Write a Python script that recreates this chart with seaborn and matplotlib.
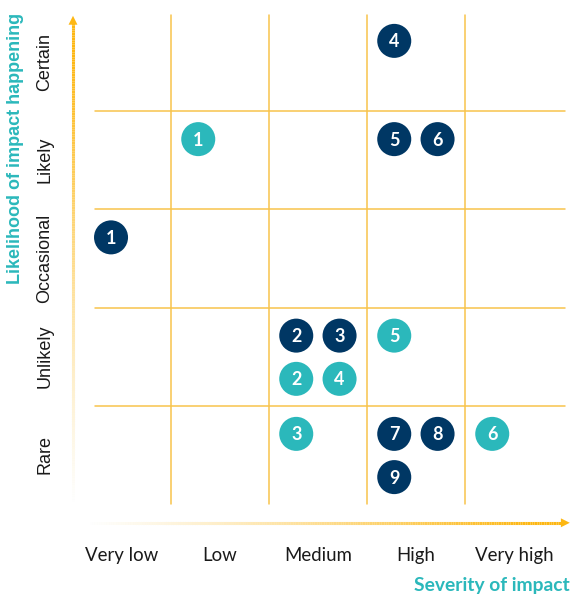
import numpy as np
import pandas as pd
import matplotlib
matplotlib.use("Agg")
import matplotlib.pyplot as plt
import seaborn as sns
from matplotlib.collections import LineCollection

# Risk matrix data
severity = ["Very low", "Low", "Medium", "High", "Very high"]
likelihood = ["Rare", "Unlikely", "Occasional", "Likely", "Certain"]

# navy risks
navy_ids = [1, 2, 3, 4, 5, 6, 7, 8, 9]
navy_sev = ["Very low", "Medium", "Medium", "High", "High", "High", "High", "High", "High"]
navy_lik = ["Occasional", "Unlikely", "Unlikely", "Certain", "Likely", "Likely", "Rare", "Rare", "Rare"]
navy_col = [0, 0, 1, 0, 0, 1, 0, 1, 0]
navy_row = [0, 0, 0, 0, 0, 0, 0, 0, 1]

# teal risks
teal_ids = [1, 2, 3, 4, 5, 6]
teal_sev = ["Low", "Medium", "Medium", "Medium", "High", "Very high"]
teal_lik = ["Likely", "Unlikely", "Rare", "Unlikely", "Unlikely", "Rare"]
teal_col = [0, 0, 0, 1, 0, 0]
teal_row = [0, 1, 0, 1, 0, 0]

NAVY = "#003764"
TEAL = "#2BB8BB"
GRID = "#F8C34B"
ARROW = "#FDB713"

grid_left = -0.28
grid_right = 4.52
grid_bottom = -0.5
grid_top = 4.48
slot_dx = [-0.222, 0.22]
slot_dy = [0.215, -0.225]


def build(ids, sev, lik, col, row, group):
    df = pd.DataFrame({"id": ids, "sev": sev, "lik": lik, "col": col, "row": row})
    xi = df["sev"].map(severity.index)
    left = np.maximum(xi - 0.5, grid_left)
    df["x"] = (left + xi + 0.5) / 2 + df["col"].map(lambda c: slot_dx[c])
    df["y"] = df["lik"].map(likelihood.index) + df["row"].map(lambda r: slot_dy[r])
    df["group"] = group
    return df


df = pd.concat([
    build(navy_ids, navy_sev, navy_lik, navy_col, navy_row, "navy"),
    build(teal_ids, teal_sev, teal_lik, teal_col, teal_row, "teal"),
], ignore_index=True)

sns.set_style("white")
plt.rcParams["font.family"] = ["Liberation Sans", "DejaVu Sans"]

fig = plt.figure(figsize=(5.73, 5.97), dpi=100)
ax = fig.add_axes([0, 0, 1, 1])
ax.set_xlim((0 - 122) / 98, (573 - 122) / 98)
ax.set_ylim((455 - 597) / 98.25, (455 - 0) / 98.25)
ax.axis("off")

# grid lines
for b in np.arange(0.5, 4, 1):
    ax.plot([b, b], [grid_bottom, grid_top], color=GRID, lw=1.1, zorder=1)
    ax.plot([grid_left, grid_right], [b, b], color=GRID, lw=1.1, zorder=1)


def gradient_line(x0, y0, x1, y1):
    n = 200
    t = np.linspace(0, 1, n + 1)
    xs = x0 + (x1 - x0) * t
    ys = y0 + (y1 - y0) * t
    segs = [[(xs[i], ys[i]), (xs[i + 1], ys[i + 1])] for i in range(n)]
    rgb = matplotlib.colors.to_rgb(ARROW)
    cols = [(rgb[0], rgb[1], rgb[2], min(1, (i / n) ** 1.2 * 1.1)) for i in range(n)]
    ax.add_collection(LineCollection(segs, colors=cols, linewidths=2.2, zorder=2))
    ax.annotate("", xy=(x1 + (x1 - x0) * 0.02, y1 + (y1 - y0) * 0.02), xytext=(x1 - (x1 - x0) * 0.01, y1 - (y1 - y0) * 0.01),
                arrowprops=dict(arrowstyle="-|>", color=ARROW, lw=0, mutation_scale=16), zorder=3)


# axis arrows
gradient_line(-0.5, -0.52, -0.5, 4.40)
gradient_line(-0.38, -0.69, 4.50, -0.69)

# risk circles
sns.scatterplot(data=df, x="x", y="y", hue="group", palette={"navy": NAVY, "teal": TEAL},
                s=600, edgecolor="none", legend=False, ax=ax, zorder=4)
for _, r in df.iterrows():
    ax.text(r["x"], r["y"] - 0.01, str(r["id"]), color="white", fontsize=13, fontweight="bold",
            ha="center", va="center", family=["Lato", "DejaVu Sans"], zorder=5)

# tick labels
for i, s in enumerate(severity):
    ax.text(i, -1.02, s, ha="center", va="center", fontsize=13.4, color="#1a1a1a",
            family=["Lato", "DejaVu Sans"])
for j, l in enumerate(likelihood):
    ax.text(-0.786, j, l, ha="center", va="center", rotation=90, fontsize=13, color="#1a1a1a")

# axis titles
ax.text(4.57, -1.333, "Severity of impact", ha="right", va="center", fontsize=13.9,
        fontweight="bold", color=TEAL, family=["Lato", "DejaVu Sans"])
ax.text(-1.09, 3.125, "Likelihood of impact happening", ha="center", va="center", rotation=90,
        fontsize=13, fontweight="bold", color=TEAL)

fig.savefig("out.png", dpi=100)
